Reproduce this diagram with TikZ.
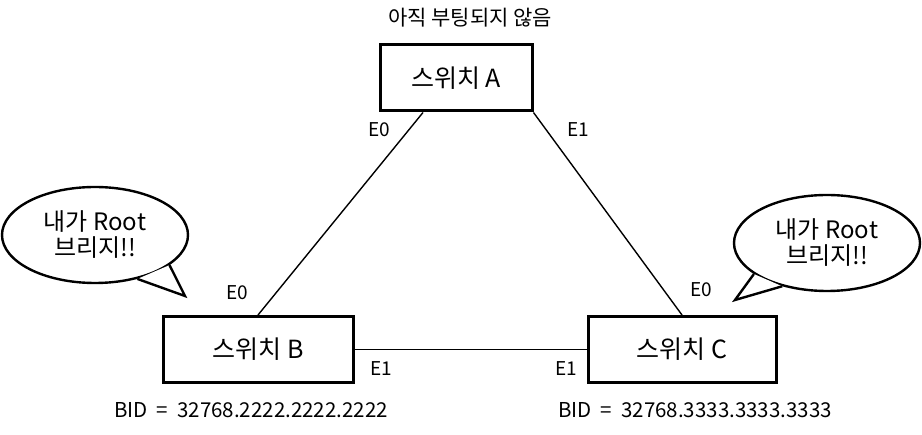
\documentclass[tikz,border=0pt]{standalone}
\usepackage{fontspec}
\setmainfont{Noto Sans CJK KR}
\usetikzlibrary{positioning,shapes.geometric}
\tikzset{
  swBox/.style={
    draw,
    line width=3pt,
    font=\fontsize{25pt}{28pt}\selectfont,
    minimum height=66pt
  },
  swLink/.style={
    line width=1.4pt
  },
  portLbl/.style={
    font=\fontsize{19pt}{21pt}\selectfont,
    inner sep=0pt
  },
  bidLbl/.style={
    font=\fontsize{20.5pt}{22pt}\selectfont,
    inner sep=0pt
  },
  bubble/.style={
    ellipse,
    draw,
    fill=white,
    line width=2.4pt,
    align=center,
    inner sep=0pt,
    font=\fontsize{24pt}{26pt}\selectfont,
    minimum width=186pt,
    minimum height=96pt
  }
}
\begin{document}
\begin{tikzpicture}[x=1pt,y=-1pt]
  \useasboundingbox (0,0) rectangle (922,435);

  % switches
  \node (swA) [swBox, minimum width=152pt] at (456,78) {스위치 A};
  \node (swB) [swBox, minimum width=190pt] at (258,349.5) {스위치 B};
  \node (swC) [swBox, minimum width=188pt] at (682,349.5) {스위치 C};

  \node (title) [portLbl, font=\fontsize{21pt}{23pt}\selectfont] at (470,18) {아직\ 부팅되지\ 않음};

  % links
  \draw [swLink] ([xshift=-33pt]swA.south) -- (swB.north);
  \draw [swLink] (swA.south east) -- (swC.north);
  \draw [swLink] (swB.east) -- (swC.west);

  % port labels
  \node (aE0) [portLbl] at (379,130) {E0};
  \node (aE1) [portLbl] at (578,130) {E1};
  \node (bE0) [portLbl] at (237,293) {E0};
  \node (bE1) [portLbl] at (381,369) {E1};
  \node (cE1) [portLbl] at (566,369) {E1};
  \node (cE0) [portLbl] at (701,290) {E0};

  % bridge ids
  \node (bidB) [bidLbl] at (251,410) {BID\ \ =\ \ 32768.2222.2222.2222};
  \node (bidC) [bidLbl] at (695,410) {BID\ \ =\ \ 32768.3333.3333.3333};

  % speech bubbles
  \node (talkB) [bubble] at (95,235) {내가 Root\\브리지!!};
  \coordinate (tipB) at (185,296);
  \fill [white] (talkB.-22) -- (tipB) -- (talkB.-46) -- cycle;
  \draw [line width=2.4pt, line join=miter] (talkB.-22) -- (tipB) -- (talkB.-46);

  \node (talkC) [bubble] at (827,243) {내가 Root\\브리지!!};
  \coordinate (tipC) at (735,300);
  \fill [white] (talkC.-157) -- (tipC) -- (talkC.-136) -- cycle;
  \draw [line width=2.4pt, line join=miter] (talkC.-157) -- (tipC) -- (talkC.-136);
\end{tikzpicture}
\end{document}
